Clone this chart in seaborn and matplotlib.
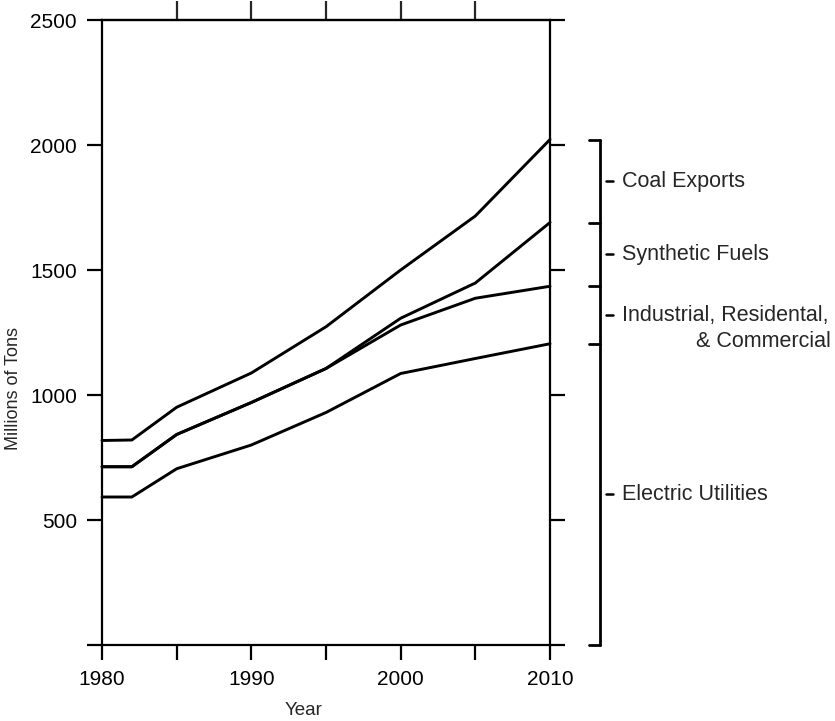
import matplotlib
matplotlib.use('Agg')
import matplotlib.pyplot as plt
import matplotlib.transforms as mtransforms
import seaborn as sns

# Valores (níveis acumulados, milhões de toneladas)
years = [1980, 1982, 1985, 1990, 1995, 2000, 2005, 2010]
electric = [592, 592, 705, 800, 930, 1086, 1146, 1205]
industrial = [713, 713, 842, 970, 1106, 1280, 1387, 1435]
synthetic = [713, 713, 842, 970, 1106, 1307, 1448, 1690]
coal = [818, 820, 951, 1088, 1273, 1500, 1716, 2022]

x_ticks = [1980, 1985, 1990, 1995, 2000, 2005, 2010]
x_labels = ['1980', '', '1990', '', '2000', '', '2010']
top_ticks = [1985, 1990, 1995, 2000, 2005]
y_ticks = [0, 500, 1000, 1500, 2000, 2500]
y_labels = ['', '500', '1000', '1500', '2000', '2500']

sns.set_style('ticks')
plt.rcParams['font.family'] = ['Liberation Sans', 'DejaVu Sans']

fig = plt.figure(figsize=(8.35, 7.21), dpi=100)
ax = fig.add_axes([102 / 835, 1 - 645 / 721, 448 / 835, 625 / 721])

for serie in [electric, industrial, synthetic, coal]:
    sns.lineplot(x=years, y=serie, color='black', linewidth=2.1, ax=ax, clip_on=False)

ax.set_xlim(1980, 2010)
ax.set_ylim(0, 2500)
ax.set_xticks(x_ticks)
ax.set_xticklabels(x_labels)
ax.set_yticks(y_ticks)
ax.set_yticklabels(y_labels)
ax.tick_params(direction='out', length=11, width=1.6, right=True, labelsize=15, pad=7, colors='black')

for s in ax.spines.values():
    s.set_linewidth(1.6)
    s.set_color('black')

topo = ax.secondary_xaxis('top')
topo.set_xticks(top_ticks)
topo.set_xticklabels([])
topo.tick_params(direction='out', length=14, width=1.6)
topo.spines['top'].set_linewidth(1.6)

ax.set_ylabel('Millions of Tons', fontsize=13)
ax.yaxis.set_label_coords(-0.179, 0.411)
ax.set_xlabel('Year', fontsize=13.5)
ax.xaxis.set_label_coords(0.449, -0.091)

# Colchete à direita com os níveis de 2010
trans = ax.get_yaxis_transform()
niveis = [coal[-1], synthetic[-1], industrial[-1], electric[-1], 0]
xb = (600 - 102) / 448
xt = (589 - 102) / 448
ax.plot([xb, xb], [0, niveis[0]], color='black', lw=2, transform=trans, clip_on=False)
for n in niveis:
    ax.plot([xt, xb], [n, n], color='black', lw=2, transform=trans, clip_on=False)

nomes = ['Coal Exports', 'Synthetic Fuels', 'Industrial, Residental,', 'Electric Utilities']
xd0 = (606 - 102) / 448
xd1 = (613 - 102) / 448
xtxt = (622 - 102) / 448
for i, nome in enumerate(nomes):
    meio = (niveis[i] + niveis[i + 1]) / 2
    ax.plot([xd0, xd1], [meio, meio], color='black', lw=1.8, transform=trans, clip_on=False)
    ax.text(xtxt, meio, nome, transform=trans, fontsize=15.5, ha='left', va='center')
    if i == 2:
        t2 = mtransforms.offset_copy(trans, fig=fig, x=0, y=-19, units='points')
        ax.text((831 - 102) / 448, meio, '& Commercial', transform=t2,
                fontsize=15.5, ha='right', va='center')

plt.savefig('out.png', dpi=100)
